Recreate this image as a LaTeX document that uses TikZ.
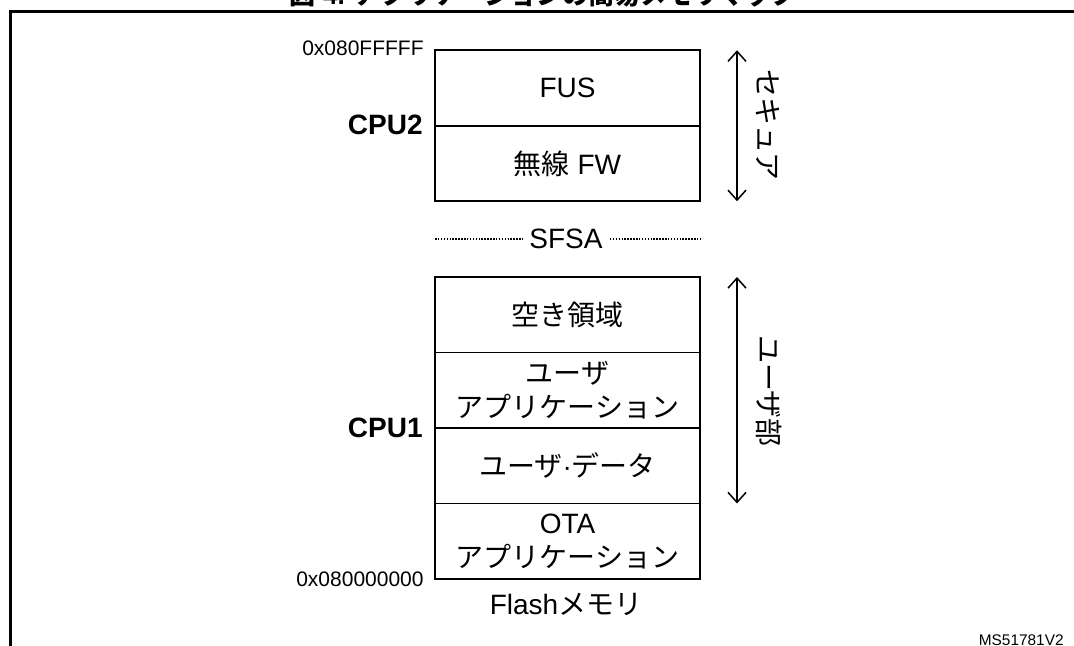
\documentclass[tikz,border=0pt]{standalone}
\usepackage{fontspec}
\setmainfont{Liberation Sans}
\newfontfamily\jpfont{Noto Sans CJK JP}
\usetikzlibrary{positioning,arrows.meta}
\newcommand{\ja}[1]{{\jpfont #1}}
\newcommand{\mainsize}{\fontsize{14}{17}\selectfont}
\tikzset{
  mem/.style={draw,line width=0.9pt,minimum width=132.5pt,minimum height=37.75pt,
    inner sep=0pt,outer sep=0pt,align=center,font=\mainsize},
  cpu/.style={font=\mainsize\bfseries,inner sep=0pt,anchor=east},
  addr/.style={font=\fontsize{10.5}{12}\selectfont,inner sep=0pt,anchor=east},
  span/.style={{Straight Barb[length=5pt,width=9pt]}-{Straight Barb[length=5pt,width=9pt]},line width=0.75pt},
  vlabel/.style={rotate=-90,font=\mainsize,inner sep=0pt},
  dotline/.style={line width=0.65pt,dash pattern=on 0.75pt off 0.7pt}
}
\begin{document}
\begin{tikzpicture}[x=0.5pt,y=-0.5pt,node distance=0pt]
\useasboundingbox (0,0) rectangle (1074,646);
% title (cut by the page edge) and frame
\node[font=\fontsize{13}{15}\selectfont\bfseries,anchor=base] (title) at (543,5)
  {\ja{図} 4. \ja{アプリケーションの簡易メモリマップ}};
\draw[line width=1.5pt] (10,660) -- (10,12) -- (1080,12);
% CPU2 area
\node[mem] (fus) at (567.5,88) {FUS};
\node[mem,below=of fus] (radio) {\ja{無線} FW};
\node[cpu] (cpu2) at (423,125) {CPU2};
\node[addr] (hi) at (424,48) {0x080FFFFF};
% SFSA boundary
\node[font=\mainsize,inner sep=3.5pt] (sfsa) at (566,239) {SFSA};
\draw[dotline] (radio.west |- sfsa.west) -- (sfsa.west);
\draw[dotline] (sfsa.east) -- (radio.east |- sfsa.east);
% CPU1 area
\node[mem] (free) at (567.5,314.75) {\ja{空き領域}};
\node[mem,below=of free] (uapp) {\ja{ユーザ}\\\ja{アプリケーション}};
\node[mem,below=of uapp] (udata) {\ja{ユーザ}·\ja{データ}};
\node[mem,below=of udata] (ota) {OTA\\\ja{アプリケーション}};
\node[cpu] (cpu1) at (423,428) {CPU1};
\node[addr] (lo) at (424,579) {0x080000000};
\node[font=\mainsize,inner sep=0pt] (flash) at (566,604) {Flash\ja{メモリ}};
% ranges
\draw[span] ([xshift=18.5pt]fus.north east) -- ([xshift=18.5pt]radio.south east);
\draw[span] ([xshift=18.5pt]free.north east) -- ([xshift=18.5pt]udata.south east);
\node[vlabel] (secure) at (768,125) {\ja{セキュア}};
\node[vlabel] (user) at (769,391) {\ja{ユーザ部}};
\node[font=\fontsize{7.7}{9}\selectfont,inner sep=0pt,anchor=base east] (ref) at (1064,645) {MS51781V2};
\end{tikzpicture}
\end{document}
